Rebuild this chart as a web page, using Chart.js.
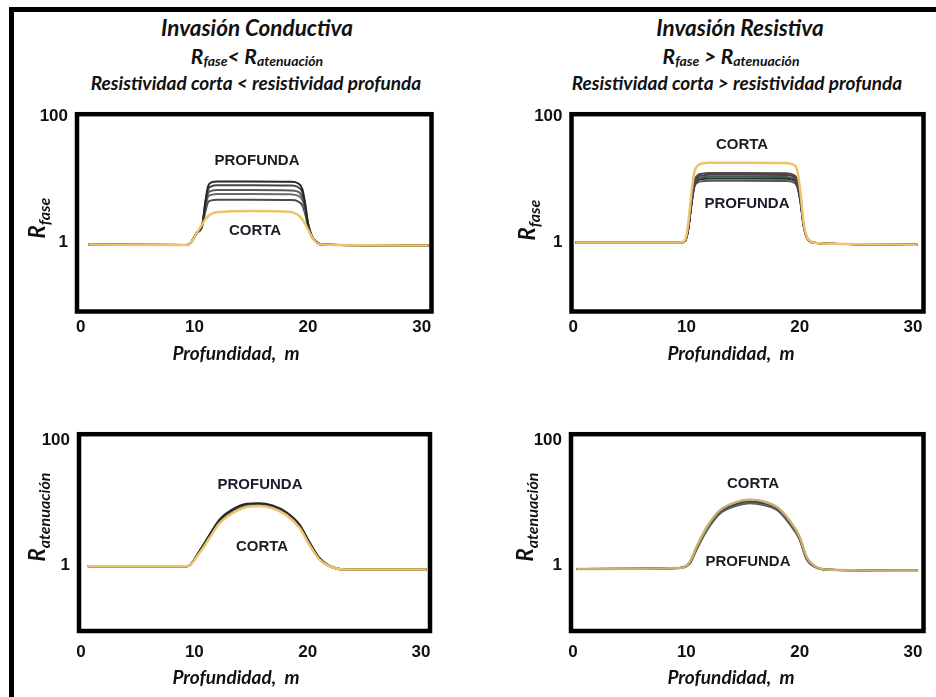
<!DOCTYPE html>
<html><head><meta charset="utf-8">
<script src="https://cdn.jsdelivr.net/npm/chart.js@4.4.1/dist/chart.umd.min.js"></script>
<style>
html,body{margin:0;padding:0;background:#fff;}
body{width:936px;height:697px;overflow:hidden;position:relative;font-family:Lato,"Open Sans",sans-serif;color:#111;}
.frameL{position:absolute;left:9px;top:7px;width:5px;height:690px;background:#000;}
.frameT{position:absolute;left:9px;top:7px;width:927px;height:5px;background:#000;}
.t{position:absolute;transform:translate(-50%,-50%);white-space:nowrap;font-style:italic;font-weight:700;line-height:1;}
.h1{font-size:22.5px;}
.eq{font-size:21px;}
.eq sub{font-size:14px;vertical-align:-0.2em;line-height:0;}
.h3{font-size:19px;}
.xt{font-size:19px;}
.yt{position:absolute;transform:translate(-50%,-50%) rotate(-90deg);white-space:nowrap;font-style:italic;font-weight:700;line-height:1;font-size:22px;}
.yt sub{font-size:16px;vertical-align:-0.3em;line-height:0;}
.ann{position:absolute;transform:translate(-50%,-50%);white-space:nowrap;font-family:"Liberation Sans",Arial,sans-serif;font-weight:700;font-size:15px;color:#1c1c28;line-height:1;}
canvas{position:absolute;}
</style></head>
<body>
<div class="frameL"></div><div class="frameT"></div>

<div class="t h1" style="left:257px;top:28px">Invasión Conductiva</div>
<div class="t eq" style="left:257px;top:55px">R<sub>fase</sub>&lt; R<sub>atenuación</sub></div>
<div class="t h3" style="left:256px;top:82px">Resistividad corta &lt; resistividad profunda</div>

<div class="t h1" style="left:740px;top:28px">Invasión Resistiva</div>
<div class="t eq" style="left:731px;top:55px">R<sub>fase</sub> &gt; R<sub>atenuación</sub></div>
<div class="t h3" style="left:737px;top:82px">Resistividad corta &gt; resistividad profunda</div>

<canvas id="c1" width="468" height="275" style="left:0;top:95px;width:468px;height:275px"></canvas>
<canvas id="c2" width="468" height="275" style="left:468px;top:95px;width:468px;height:275px"></canvas>
<canvas id="c3" width="468" height="282" style="left:0;top:415px;width:468px;height:282px"></canvas>
<canvas id="c4" width="468" height="282" style="left:468px;top:415px;width:468px;height:282px"></canvas>

<div class="yt" style="left:37px;top:218px">R<sub>fase</sub></div>
<div class="yt" style="left:527px;top:220px">R<sub>fase</sub></div>
<div class="yt" style="left:37px;top:517px">R<sub>atenuación</sub></div>
<div class="yt" style="left:525px;top:517px">R<sub>atenuación</sub></div>

<div class="t xt" style="left:236px;top:352px">Profundidad,&nbsp; m</div>
<div class="t xt" style="left:731px;top:352px">Profundidad,&nbsp; m</div>
<div class="t xt" style="left:236px;top:676px">Profundidad,&nbsp; m</div>
<div class="t xt" style="left:731px;top:676px">Profundidad,&nbsp; m</div>

<div class="ann" style="left:257px;top:159px">PROFUNDA</div>
<div class="ann" style="left:255px;top:229px">CORTA</div>
<div class="ann" style="left:742px;top:143px">CORTA</div>
<div class="ann" style="left:747px;top:202px">PROFUNDA</div>
<div class="ann" style="left:260px;top:483px">PROFUNDA</div>
<div class="ann" style="left:262px;top:545px">CORTA</div>
<div class="ann" style="left:753px;top:482px">CORTA</div>
<div class="ann" style="left:748px;top:560px">PROFUNDA</div>

<script>
// ---- tick labels ----
const xTickValues = [0, 10, 20, 30];
const yTickValues = [1, 100];

// ---- Panel 1: Invasión conductiva, R fase ----
const depth1 = [0.7, 9.3, 9.7, 10.2, 10.7, 10.95, 11.2, 11.5, 12.0, 15.0, 18.5, 19.1, 19.5, 19.75, 20.0, 20.3, 20.7, 21.2, 25.0, 30.6];
const p1Corta  = [0.92, 0.91, 1.0, 1.4, 1.95, 2.3, 2.6, 2.85, 3.0, 3.15, 3.05, 2.75, 2.3, 1.95, 1.6, 1.25, 1.0, 0.92, 0.9, 0.89];
const p1Prof1  = [0.92, 0.91, 1.0, 1.4, 1.9, 4.3, 7.8, 9.0, 9.3, 9.3, 9.2, 8.7, 7.0, 4.1, 2.0, 1.3, 1.02, 0.92, 0.9, 0.89];
const p1Prof2  = [0.92, 0.91, 1.0, 1.4, 1.9, 4.0, 6.9, 7.8, 8.1, 8.1, 8.0, 7.6, 6.2, 3.8, 1.95, 1.3, 1.02, 0.92, 0.9, 0.89];
const p1Prof3  = [0.92, 0.91, 1.0, 1.4, 1.9, 3.7, 6.0, 6.6, 6.8, 6.8, 6.7, 6.4, 5.3, 3.5, 1.9, 1.3, 1.02, 0.92, 0.9, 0.89];
const p1Prof4  = [0.92, 0.91, 1.0, 1.4, 1.9, 3.4, 5.3, 5.7, 5.9, 5.9, 5.8, 5.55, 4.7, 3.2, 1.85, 1.28, 1.02, 0.92, 0.9, 0.89];
const p1Prof5  = [0.92, 0.91, 1.0, 1.4, 1.9, 3.0, 4.35, 4.65, 4.75, 4.75, 4.7, 4.5, 3.85, 2.8, 1.8, 1.25, 1.02, 0.92, 0.9, 0.89];

// ---- Panel 2: Invasión resistiva, R fase ----
const depth2 = [0.2, 9.5, 9.9, 10.15, 10.45, 10.7, 11.0, 11.4, 12.0, 15.0, 18.8, 19.4, 19.75, 20.05, 20.35, 20.75, 21.5, 25.0, 30.4];
const p2Corta  = [0.98, 0.98, 1.1, 2.0, 6.5, 13.2, 16.5, 17.8, 18.3, 18.4, 18.2, 17.2, 14.5, 6.5, 2.0, 1.1, 0.96, 0.92, 0.9];
const p2Prof1  = [0.98, 0.98, 1.05, 1.6, 4.5, 9.5, 11.6, 12.3, 12.6, 12.6, 12.5, 11.9, 10.0, 5.0, 1.8, 1.08, 0.96, 0.92, 0.9];
const p2Prof2  = [0.98, 0.98, 1.05, 1.6, 4.4, 9.0, 10.9, 11.5, 11.8, 11.8, 11.7, 11.2, 9.5, 4.8, 1.8, 1.08, 0.96, 0.92, 0.9];
const p2Prof3  = [0.98, 0.98, 1.05, 1.6, 4.3, 8.5, 10.2, 10.8, 11.0, 11.0, 10.9, 10.4, 8.9, 4.7, 1.8, 1.08, 0.96, 0.92, 0.9];
const p2Prof4  = [0.98, 0.98, 1.05, 1.6, 4.2, 8.1, 9.6, 10.1, 10.3, 10.3, 10.2, 9.8, 8.4, 4.6, 1.8, 1.08, 0.96, 0.92, 0.9];
const p2Prof5  = [0.98, 0.98, 1.05, 1.6, 4.1, 7.6, 8.9, 9.3, 9.5, 9.5, 9.4, 9.0, 7.8, 4.4, 1.75, 1.08, 0.96, 0.92, 0.9];

// ---- Panel 3: Invasión conductiva, R atenuación ----
const depth3 = [0.6, 9.4, 10.45, 11.35, 12.2, 13.4, 14.6, 15.7, 16.9, 18.1, 19.3, 20.1, 21.0, 21.9, 23.4, 30.5];
const p3Corta  = [0.98, 0.98, 1.6, 2.8, 4.7, 7.0, 8.7, 9.0, 8.3, 6.5, 4.0, 2.25, 1.28, 0.99, 0.87, 0.87];
const p3Prof1  = [0.98, 0.98, 1.72, 3.15, 5.4, 8.0, 9.8, 10.0, 9.2, 7.2, 4.5, 2.5, 1.36, 1.0, 0.87, 0.87];
const p3Prof2  = [0.98, 0.98, 1.7, 3.05, 5.2, 7.7, 9.4, 9.7, 8.9, 7.0, 4.4, 2.42, 1.34, 1.0, 0.87, 0.87];
const p3Prof3  = [0.98, 0.98, 1.66, 2.95, 5.0, 7.4, 9.1, 9.4, 8.7, 6.8, 4.25, 2.35, 1.32, 1.0, 0.87, 0.87];
const p3Prof4  = [0.98, 0.98, 1.62, 2.85, 4.8, 7.2, 8.9, 9.2, 8.5, 6.6, 4.1, 2.3, 1.3, 0.99, 0.87, 0.87];

// ---- Panel 4: Invasión resistiva, R atenuación ----
const depth4 = [0.3, 9.4, 10.3, 10.9, 11.8, 12.95, 14.4, 15.6, 16.8, 18.0, 19.1, 20.0, 20.6, 21.5, 22.7, 30.45];
const p4Corta  = [0.89, 0.92, 1.15, 2.0, 4.1, 7.6, 10.3, 11.2, 10.6, 8.6, 5.3, 2.9, 1.4, 0.95, 0.86, 0.83];
const p4Prof1  = [0.89, 0.92, 1.13, 1.94, 4.0, 7.35, 9.9, 10.8, 10.2, 8.3, 5.1, 2.8, 1.35, 0.94, 0.86, 0.83];
const p4Prof2  = [0.89, 0.92, 1.12, 1.9, 3.85, 7.1, 9.6, 10.5, 9.9, 8.1, 4.95, 2.72, 1.33, 0.94, 0.86, 0.83];
const p4Prof3  = [0.89, 0.92, 1.1, 1.85, 3.7, 6.9, 9.3, 10.2, 9.6, 7.9, 4.8, 2.65, 1.3, 0.93, 0.86, 0.83];
const p4Prof4  = [0.89, 0.92, 1.08, 1.8, 3.6, 6.7, 9.0, 9.9, 9.3, 7.7, 4.65, 2.6, 1.28, 0.93, 0.86, 0.83];

const YELLOW = '#efc36b';

function ds(depth, vals, color, width) {
  return {
    data: depth.map((d, i) => ({x: d, y: vals[i]})),
    borderColor: color, borderWidth: width, pointRadius: 0,
    cubicInterpolationMode: 'monotone', fill: false
  };
}

const boxPlugin = {
  id: 'box',
  afterDraw(chart) {
    const {ctx, chartArea: a} = chart;
    ctx.save();
    ctx.lineWidth = 4.5; ctx.strokeStyle = '#000';
    ctx.strokeRect(a.left, a.top, a.right - a.left, a.bottom - a.top);
    ctx.restore();
  }
};

Chart.defaults.font.family = '"Liberation Sans", Arial, sans-serif';
Chart.defaults.font.weight = 'bold';
Chart.defaults.font.size = 17;
Chart.defaults.color = '#111';

function makeChart(id, datasets, g) {
  new Chart(document.getElementById(id), {
    type: 'line',
    data: {datasets},
    plugins: [boxPlugin],
    options: {
      responsive: false, animation: false, events: [],
      layout: {padding: {left: 0, top: g.padTop, right: g.padRight, bottom: g.padBottom}},
      plugins: {legend: {display: false}, tooltip: {enabled: false}},
      scales: {
        x: {
          type: 'linear', min: g.xMin, max: g.xMax,
          grid: {display: false, drawTicks: false}, border: {display: false},
          afterBuildTicks: s => { s.ticks = xTickValues.map(v => ({value: v})); },
          afterFit: s => { s.height = 30; },
          ticks: {autoSkip: false, maxRotation: 0, padding: g.xPad, callback: v => String(v)}
        },
        y: {
          type: 'logarithmic', min: g.yMin, max: g.yMax,
          grid: {display: false, drawTicks: false}, border: {display: false},
          afterBuildTicks: s => { s.ticks = yTickValues.map(v => ({value: v})); },
          afterFit: s => { s.width = g.yW; },
          ticks: {autoSkip: false, padding: 9, callback: v => String(v)}
        }
      }
    }
  });
}

makeChart('c1', [
  ds(depth1, p1Corta, YELLOW, 2.5),
  ds(depth1, p1Prof1, '#262626', 2),
  ds(depth1, p1Prof2, '#4b4444', 2),
  ds(depth1, p1Prof3, '#5a5a5a', 2),
  ds(depth1, p1Prof4, '#6b6b6b', 2),
  ds(depth1, p1Prof5, '#4a4d4a', 2)
], {padTop: 12.5, padRight: 36.5, padBottom: 28.5, yW: 77, xMin: -0.33, xMax: 30.86, yMin: 0.0794, yMax: 109.3, xPad: 6});

makeChart('c2', [
  ds(depth2, p2Corta, YELLOW, 2.5),
  ds(depth2, p2Prof1, '#4a4a4a', 2),
  ds(depth2, p2Prof2, '#5a3b4a', 2),
  ds(depth2, p2Prof3, '#3f5a55', 2),
  ds(depth2, p2Prof4, '#2e2e2e', 2),
  ds(depth2, p2Prof5, '#555555', 2)
], {padTop: 12.5, padRight: 12.5, padBottom: 28.5, yW: 103.5, xMin: -0.16, xMax: 30.93, yMin: 0.0773, yMax: 109.3, xPad: 6});

makeChart('c3', [
  ds(depth3, p3Corta, YELLOW, 2.5),
  ds(depth3, p3Prof1, '#262626', 2),
  ds(depth3, p3Prof2, '#3f5a40', 2),
  ds(depth3, p3Prof3, '#6a6a6a', 2),
  ds(depth3, p3Prof4, '#4f5a56', 2)
], {padTop: 15.5, padRight: 38, padBottom: 36, yW: 79, xMin: -0.18, xMax: 30.8, yMin: 0.0906, yMax: 126.5, xPad: 11});

makeChart('c4', [
  ds(depth4, p4Corta, '#c9b070', 2.5),
  ds(depth4, p4Prof1, '#3a3a3a', 2),
  ds(depth4, p4Prof2, '#3f5a45', 2),
  ds(depth4, p4Prof3, '#6a6a6a', 2),
  ds(depth4, p4Prof4, '#50525a', 2)
], {padTop: 17, padRight: 12.5, padBottom: 36, yW: 103, xMin: -0.18, xMax: 30.93, yMin: 0.0914, yMax: 124.3, xPad: 11});
</script>
</body></html>
